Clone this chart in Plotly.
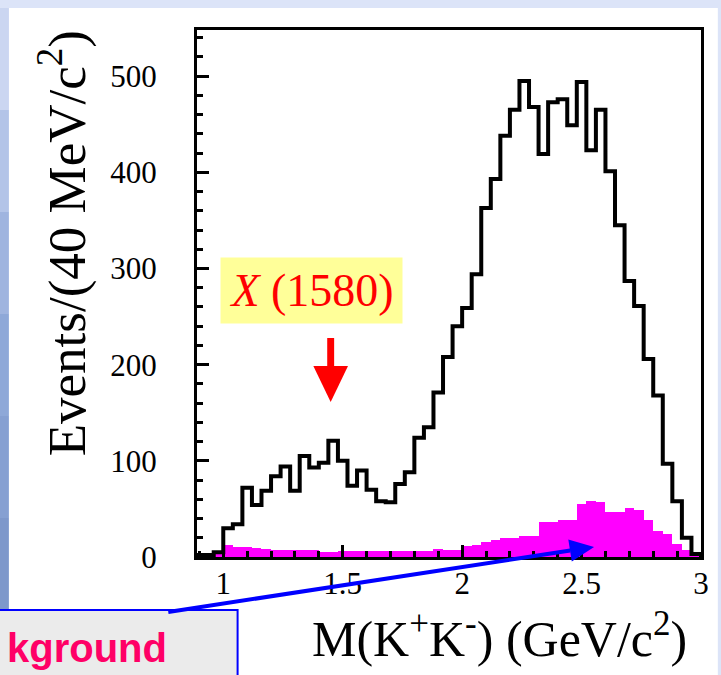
import plotly.graph_objects as go

# ---------------- data ----------------
BIN_LOW = 0.88          # GeV/c^2, lower edge of first bin
BIN_WIDTH = 0.04        # 40 MeV/c^2 bins
data_counts = [2, 2, 5,
               30, 34, 72, 54, 69, 84, 94, 69, 105, 93,
               98, 121, 100, 74, 90, 70, 58, 57, 76, 88,
               124, 135, 171, 208, 240, 259, 294, 363, 393, 438,
               465, 495, 468, 419, 473, 476, 449, 494, 423, 465,
               401, 345, 287, 261, 206, 168, 97, 58, 20, 3]
bkg_counts = [0, 1, 3,
              13, 10.5, 10, 9, 8, 7, 7, 7, 7, 7,
              5, 5, 6, 6, 6, 6, 6, 6, 6, 6,
              6, 6, 8, 7, 7, 11, 13, 16, 18, 20,
              20, 22, 22, 36, 36, 38, 38, 55, 58, 57,
              47, 47, 51, 49, 38, 27, 24, 14, 7, 3]
x_tick_vals = [1, 1.5, 2, 2.5, 3]
x_tick_text = ["1", "1.5", "2", "2.5", "3"]
y_tick_vals = [0, 100, 200, 300, 400, 500]
y_tick_text = ["0", "100", "200", "300", "400", "500"]

n = len(data_counts)
edges = [round(BIN_LOW + BIN_WIDTH * i, 4) for i in range(n + 1)]
centers = [round(BIN_LOW + BIN_WIDTH * (i + 0.5), 4) for i in range(n)]

# ---------------- layout geometry ----------------
W, H = 721, 675
L, R, T, B = 197, 15, 30, 118
PW, PH = W - L - R, H - T - B


def px(x):
    return (x - L) / PW


def py(y):
    return (H - B - y) / PH


SERIF = "Liberation Serif"

fig = go.Figure()

fig.add_trace(go.Bar(
    x=centers, y=bkg_counts, width=BIN_WIDTH,
    marker=dict(color="#ff00ff", line=dict(width=0)),
    hoverinfo="skip", showlegend=False,
))

step_x = [edges[0]] + edges[:-1] + [edges[-1], edges[-1]]
step_y = [0] + data_counts + [data_counts[-1], 0]
fig.add_trace(go.Scatter(
    x=step_x, y=step_y, mode="lines",
    line=dict(color="black", width=4, shape="hv"),
    hoverinfo="skip", showlegend=False,
))

shapes = []
# slide background pieces
shapes.append(dict(type="rect", xref="paper", yref="paper", layer="below",
                   x0=px(7), x1=px(W + 2), y0=py(8), y1=py(H + 2),
                   fillcolor="white", line=dict(width=0)))
left_cols = ["#cbd6f1", "#b3c4e8", "#9fb4df", "#8ea8d8", "#86a0d2", "#7e98cb"]
for i, c in enumerate(left_cols):
    shapes.append(dict(type="rect", xref="paper", yref="paper", layer="below",
                       x0=px(-2), x1=px(7), y0=py(8 + i * 102), y1=py(8 + (i + 1) * 102),
                       fillcolor=c, line=dict(width=0)))

# red arrow for X(1580)
ax_c = 332
shapes.append(dict(type="rect", xref="paper", yref="paper", layer="above",
                   x0=px(ax_c - 3.5), x1=px(ax_c + 3.5), y0=py(366), y1=py(338),
                   fillcolor="#ff0000", line=dict(width=0)))
shapes.append(dict(type="path", xref="paper", yref="paper", layer="above",
                   path=f"M {px(ax_c - 17.5)},{py(366)} L {px(ax_c + 17.5)},{py(366)} "
                        f"L {px(ax_c)},{py(402)} Z",
                   fillcolor="#ff0000", line=dict(width=0)))

# label box bottom-left
shapes.append(dict(type="rect", xref="paper", yref="paper", layer="above",
                   x0=px(-3), x1=px(238), y0=py(610), y1=py(H + 3),
                   fillcolor="#ebebeb", line=dict(color="#0000ff", width=2)))

# blue arrow to background histogram
shapes.append(dict(type="line", xref="paper", yref="paper", layer="above",
                   x0=px(168), y0=py(612), x1=px(574), y1=py(550.5),
                   line=dict(color="#0000ff", width=4)))
shapes.append(dict(type="path", xref="paper", yref="paper", layer="above",
                   path=f"M {px(575.5)},{py(561.5)} L {px(572)},{py(539.5)} "
                        f"L {px(598)},{py(547)} Z",
                   fillcolor="#0000ff", line=dict(width=0)))

annotations = [
    dict(xref="paper", yref="paper", x=px(61), y=py(243),
         text="Events/(40 MeV/c<sup>2</sup>)", textangle=-90, showarrow=False,
         xanchor="center", yanchor="middle",
         font=dict(family=SERIF, size=53, color="black")),
    dict(xref="paper", yref="paper", x=px(503), y=py(635),
         text="M(K<sup>+</sup>K<sup>-</sup>) (GeV/c<sup>2</sup>)", showarrow=False,
         xanchor="center", yanchor="middle",
         font=dict(family=SERIF, size=50, color="black")),
    dict(xref="paper", yref="paper", x=px(312.5), y=py(290.5),
         text="<i>X</i> (1580)", showarrow=False,
         xanchor="center", yanchor="middle", width=175, height=59,
         bgcolor="#ffff99", borderpad=3,
         font=dict(family=SERIF, size=46, color="#ff0000")),
    dict(xref="paper", yref="paper", x=px(169), y=py(648),
         text="<b>kground</b>", showarrow=False,
         xanchor="right", yanchor="middle",
         font=dict(family="Liberation Sans", size=40, color="#ff0066")),
]

axis_common = dict(
    showline=True, linecolor="black", linewidth=3, mirror=True,
    ticks="inside", tickcolor="black", tickwidth=3, ticklen=12,
    showgrid=False, zeroline=False,
    tickfont=dict(family=SERIF, size=31, color="black"),
)

fig.update_layout(
    width=W, height=H,
    margin=dict(l=L, r=R, t=T, b=B),
    font=dict(family=SERIF, color="black"),
    paper_bgcolor="#dce4f8", plot_bgcolor="white",
    bargap=0, showlegend=False,
    xaxis=dict(range=[0.89, 3.0], tickvals=x_tick_vals, ticktext=x_tick_text,
               minor=dict(dtick=0.1, tick0=0, ticks="inside", ticklen=6,
                          tickwidth=3, tickcolor="black", showgrid=False),
               ticklabelstandoff=-3, **axis_common),
    yaxis=dict(range=[0, 548], tickvals=y_tick_vals, ticktext=y_tick_text,
               minor=dict(dtick=20, tick0=0, ticks="inside", ticklen=6,
                          tickwidth=3, tickcolor="black", showgrid=False),
               ticklabelstandoff=31, **axis_common),
    shapes=shapes,
    annotations=annotations,
)

fig.write_html("out.html",
               config={"displayModeBar": False},
               post_script="document.body.style.margin='0px';"
                           "document.body.style.overflow='hidden';")
